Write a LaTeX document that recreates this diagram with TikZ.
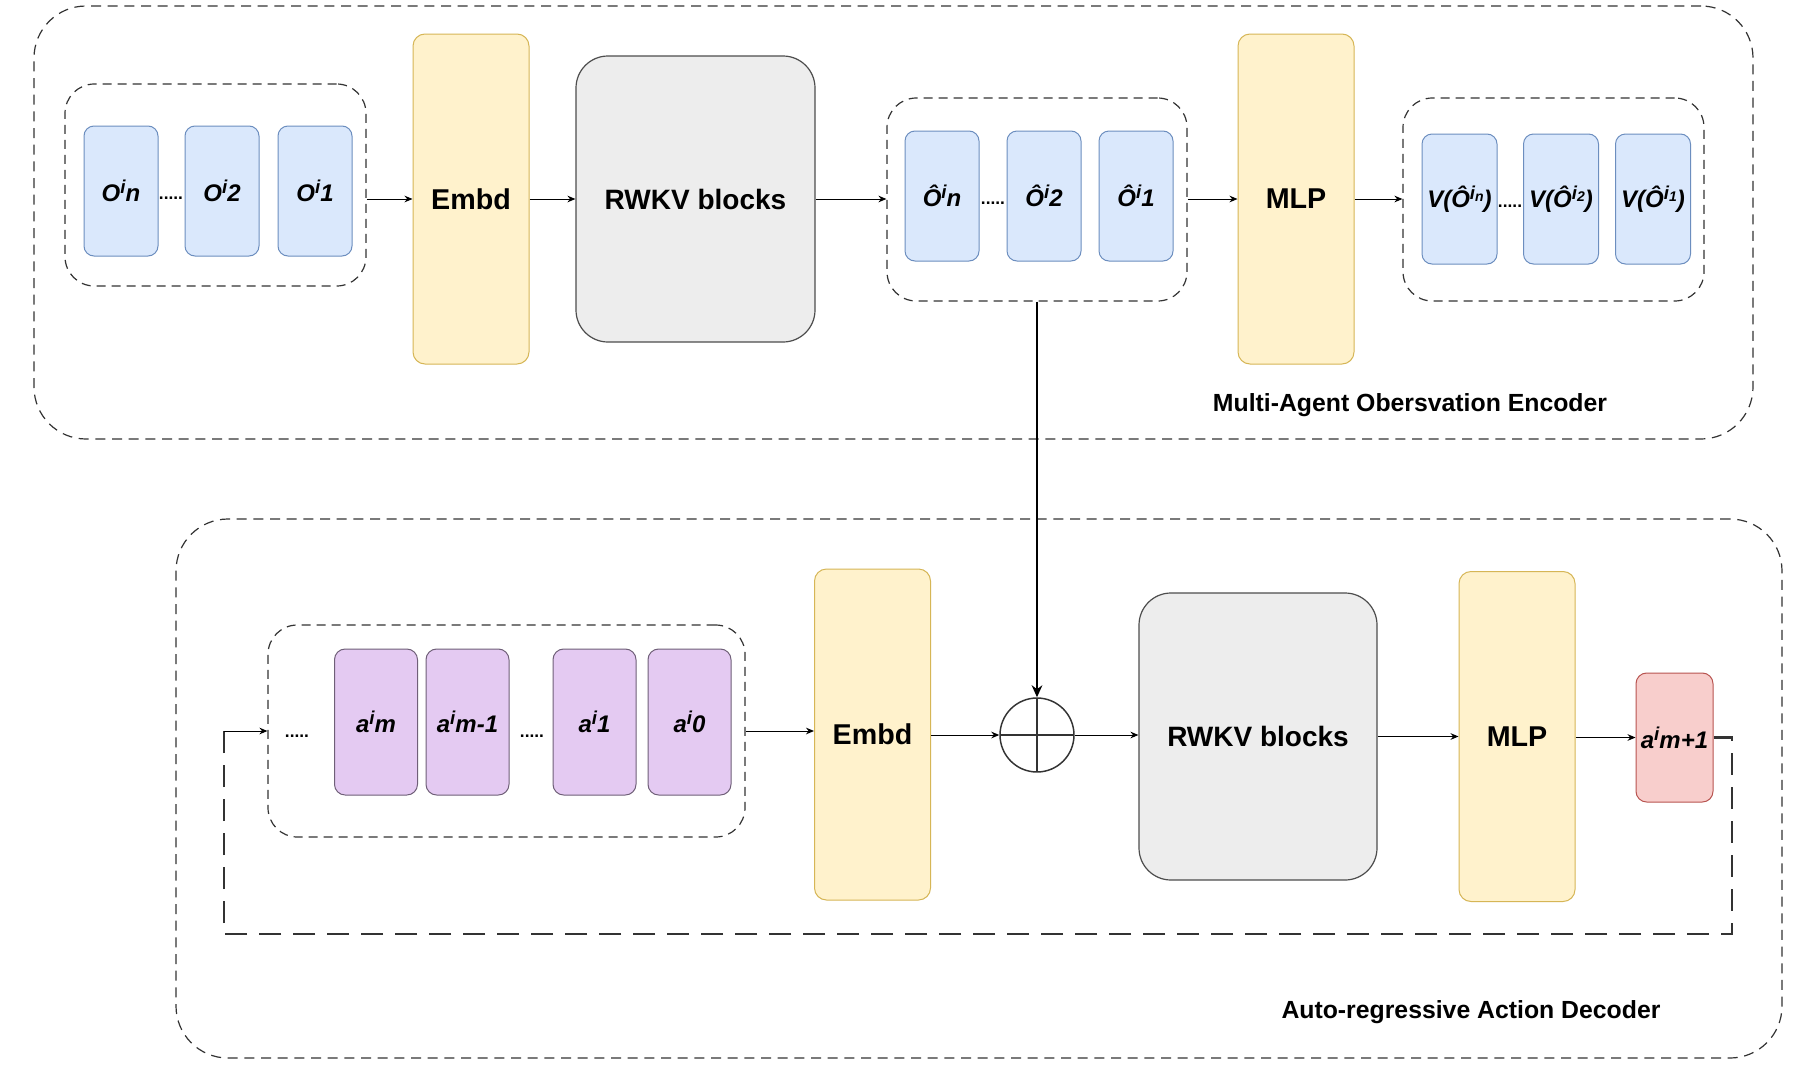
\documentclass[tikz,border=0pt]{standalone}
\usepackage{fontspec}
\setmainfont{Liberation Sans}
\usetikzlibrary{arrows.meta,calc}
\definecolor{blueF}{HTML}{DAE8FC}
\definecolor{blueS}{HTML}{6C8EBF}
\definecolor{yelF}{HTML}{FFF2CC}
\definecolor{yelS}{HTML}{D6B656}
\definecolor{grayF}{HTML}{EDEDED}
\definecolor{grayS}{HTML}{4D4D4D}
\definecolor{purF}{HTML}{E4CAF2}
\definecolor{purS}{HTML}{6F5F78}
\definecolor{redF}{HTML}{F8CECC}
\definecolor{redS}{HTML}{B85450}
\definecolor{dashc}{HTML}{333333}
\newcommand{\sups}[1]{\raisebox{6pt}{\fontsize{14}{14}\selectfont #1}}
\newcommand{\smallsub}[1]{\raisebox{4pt}{\fontsize{10.5}{10.5}\selectfont #1}}
\begin{document}
\begin{tikzpicture}[x=0.75pt,y=-0.75pt,
  outerbox/.style={draw=dashc, dash pattern=on 7.5pt off 5pt, line width=0.9pt, rounded corners=39pt, inner sep=0pt},
  grp/.style={draw=dashc, dash pattern=on 6.75pt off 4.5pt, line width=0.9pt, rounded corners=22pt, inner sep=0pt},
  lbl/.style={font=\fontsize{18}{18}\selectfont\bfseries\itshape},
  obox/.style={draw=blueS, fill=blueF, rounded corners=7.5pt, minimum width=55.5pt, minimum height=97.5pt, inner sep=0pt, line width=0.75pt, lbl},
  abox/.style={draw=purS, fill=purF, rounded corners=8pt, minimum width=62.25pt, minimum height=109.5pt, inner sep=0pt, line width=0.75pt, lbl},
  rbox/.style={draw=redS, fill=redF, rounded corners=8pt, minimum width=57.75pt, minimum height=96.75pt, inner sep=0pt, line width=0.75pt, lbl},
  ybox/.style={draw=yelS, fill=yelF, rounded corners=9pt, minimum width=87pt, minimum height=247.5pt, inner sep=0pt, line width=0.75pt, font=\fontsize{21.5}{21.5}\selectfont\bfseries},
  gbox/.style={draw=grayS, fill=grayF, rounded corners=24pt, minimum width=179.25pt, minimum height=214.5pt, inner sep=0pt, line width=0.9pt, font=\fontsize{21}{21}\selectfont\bfseries},
  dotstxt/.style={font=\fontsize{13}{13}\selectfont\bfseries, inner sep=0pt, anchor=base},
  captxt/.style={font=\fontsize{18.6}{18.6}\selectfont\bfseries, inner sep=0pt},
  oplus/.style={circle, draw=dashc, line width=1.1pt, minimum size=55.5pt, inner sep=0pt,
    path picture={\draw[dashc, line width=1.1pt] (path picture bounding box.north) -- (path picture bounding box.south)
      (path picture bounding box.west) -- (path picture bounding box.east);}},
  arr/.style={draw=black, line width=0.75pt, -{Stealth[length=6pt,width=5pt]}},
  thickarr/.style={draw=black, line width=1.5pt, -{Stealth[length=9pt,width=8pt]}},
  fbline/.style={draw=dashc, line width=1.9pt, dash pattern=on 16.5pt off 9pt}
]
\useasboundingbox (0,0) rectangle (1799,1071);
\fill[white] (0,0) rectangle (1799,1071);

% outer boxes
\node[outerbox, minimum width=1289.25pt, minimum height=324.75pt] (enc) at (893.5,222.5) {};
\node[outerbox, minimum width=1204.5pt, minimum height=404.25pt] (dec) at (979,788.5) {};

% ---------- encoder ----------
\node[grp, minimum width=225.75pt, minimum height=151.5pt] (g1) at (215.5,185) {};
\node[obox] (on) at (121,191) {O\sups{i}n};
\node[obox] (o2) at (222,191) {O\sups{i}2};
\node[obox] (o1) at (315,191) {O\sups{i}1};
\node[dotstxt] (d1) at (171,199) {.....};

\node[ybox] (emb1) at (471,199) {Embd};
\node[gbox] (rw1) at (695.5,199) {RWKV blocks};

\node[grp, minimum width=225pt, minimum height=152.25pt] (g2) at (1037,199.5) {};
\node[obox] (ohn) at (942,196) {Ô\sups{i}n};
\node[obox] (oh2) at (1044,196) {Ô\sups{i}2};
\node[obox] (oh1) at (1136,196) {Ô\sups{i}1};
\node[dotstxt] (d2) at (993,204) {.....};

\node[ybox] (mlp1) at (1296,199) {MLP};

\node[grp, minimum width=225.75pt, minimum height=152.25pt] (g3) at (1553.5,199.5) {};
\node[obox, minimum width=56.25pt] (vn) at (1459.5,199) {V(Ô\sups{i}\smallsub{n})};
\node[obox, minimum width=56.25pt] (v2) at (1561,199) {V(Ô\sups{i}\smallsub{2})};
\node[obox, minimum width=56.25pt] (v1) at (1653,199) {V(Ô\sups{i}\smallsub{1})};
\node[dotstxt] (d3) at (1510,207) {.....};

\node[captxt] (enccap) at (1410,405) {Multi-Agent Obersvation Encoder};

\draw[arr] (g1.east |- emb1.west) -- (emb1.west);
\draw[arr] (emb1.east) -- (rw1.west);
\draw[arr] (rw1.east) -- (rw1.east -| g2.west);
\draw[arr] (g2.east |- mlp1.west) -- (mlp1.west);
\draw[arr] (mlp1.east) -- (mlp1.east -| g3.west);

% ---------- decoder ----------
\node[grp, minimum width=357.75pt, minimum height=159pt] (g4) at (506.5,731) {};
\node[dotstxt] (d4) at (297,737) {.....};
\node[abox] (am) at (376,722) {a\sups{i}m};
\node[abox] (am1) at (467.5,722) {a\sups{i}m-1};
\node[dotstxt] (d5) at (532,737) {.....};
\node[abox] (a1) at (594.5,722) {a\sups{i}1};
\node[abox] (a0) at (689.5,722) {a\sups{i}0};

\node[ybox, minimum height=248.25pt] (emb2) at (872.5,734.5) {Embd};
\node[oplus] (plus) at (1037,735) {};
\node[gbox, minimum width=178.5pt, minimum height=215.25pt] (rw2) at (1258,736.5) {RWKV blocks};
\node[ybox] (mlp2) at (1517,736.5) {MLP};
\node[rbox] (anext) at (1674.5,737.5) {a\sups{i}m+1};

\node[captxt] (deccap) at (1471,1012) {Auto-regressive Action Decoder};

\draw[arr] (g4.east) -- (g4.east -| emb2.west);
\draw[arr] (emb2.east |- plus.west) -- (plus.west);
\draw[arr] (plus.east) -- (plus.east -| rw2.west);
\draw[arr] (rw2.east |- mlp2.west) -- (mlp2.west);
\draw[arr] (mlp2.east |- anext.west) -- (anext.west);
\draw[thickarr] (g2.south) -- (plus.north);

% feedback loop
\coordinate (fbend) at (224,731);
\draw[fbline] (anext.east) -- (1732,737.5) -- (1732,934) -- (224,934) -- (fbend);
\draw[arr] (fbend) -- (g4.west);
\end{tikzpicture}
\end{document}
